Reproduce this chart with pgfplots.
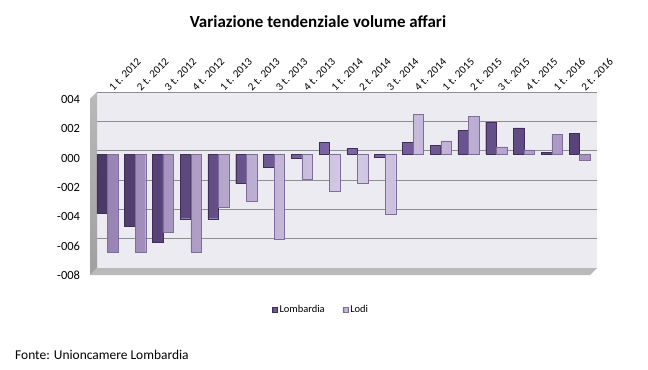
\documentclass[border=0pt]{standalone}
\usepackage{fontspec}
\setmainfont{Carlito}
\usepackage{pgfplots}
\pgfplotsset{compat=1.18}
\definecolor{lombL}{HTML}{4A3866}
\definecolor{lombM}{HTML}{7E66A6}
\definecolor{lombR}{HTML}{574378}
\definecolor{lombE}{HTML}{3F2F58}
\definecolor{lodiL}{HTML}{9884B4}
\definecolor{lodiM}{HTML}{D4CAE4}
\definecolor{lodiR}{HTML}{A592C0}
\definecolor{lodiE}{HTML}{7F6C9C}
\definecolor{wallc}{HTML}{EDEBF2}
\definecolor{gridc}{HTML}{8E8E8E}
\begin{document}
\begin{tikzpicture}[x=1bp,y=1bp]
\path (0,0) rectangle (648,369);
\node[font=\fontsize{17}{20}\selectfont\bfseries, anchor=base, inner sep=0] at (318,342) {Variazione tendenziale volume affari};
\node[font=\fontsize{13.5}{16}\selectfont, anchor=west, inner sep=0] at (15,14) {Fonte: Unioncamere Lombardia};
\begin{axis}[at={(93.5bp,97.5bp)}, anchor=south west,
  width=500bp, height=176bp, scale only axis,
  xmin=-0.5, xmax=17.5, ymin=-8, ymax=4, clip=false,
  axis line style={draw=none}, major tick length=0pt,
  ytick={-8,-6,...,4}, yticklabels={-008,-006,-004,-002,000,002,004},
  yticklabel style={font=\fontsize{12.5}{14}\selectfont, anchor=east, xshift=-10bp, yshift=-4bp},
  xtick={0,...,17},
  xticklabels={1 t. 2012,2 t. 2012,3 t. 2012,4 t. 2012,1 t. 2013,2 t. 2013,3 t. 2013,4 t. 2013,1 t. 2014,2 t. 2014,3 t. 2014,4 t. 2014,1 t. 2015,2 t. 2015,3 t. 2015,4 t. 2015,1 t. 2016,2 t. 2016},
  xticklabel pos=upper,
  xticklabel style={font=\fontsize{11}{13}\selectfont, xshift=6bp, yshift=4bp, rotate=45, anchor=south west, inner sep=0pt},
  legend style={at={(0.455,-0.219)}, anchor=center, draw=none, fill=none, font=\fontsize{10.5}{12}\selectfont, /tikz/every even column/.append style={column sep=16bp}},
  legend columns=2,
]
% back wall
\fill[wallc] ([shift={(3.5bp,3.5bp)}]axis cs:-0.5,-8) rectangle ([shift={(3.5bp,3.5bp)}]axis cs:17.5,4);
% left wall
\shade[top color=gray!55, bottom color=gray!75] ([shift={(3.5bp,3.5bp)}]axis cs:-0.5,4) -- ([shift={(3.5bp,3.5bp)}]axis cs:-0.5,-8) -- ([shift={(-3.5bp,-3.5bp)}]axis cs:-0.5,-8) -- ([shift={(-3.5bp,-3.5bp)}]axis cs:-0.5,4) -- cycle;
% floor
\fill[gray!55] ([shift={(3.5bp,3.5bp)}]axis cs:-0.5,-8) -- ([shift={(3.5bp,3.5bp)}]axis cs:17.5,-8) -- ([shift={(-3.5bp,-3.5bp)}]axis cs:17.5,-8) -- ([shift={(-3.5bp,-3.5bp)}]axis cs:-0.5,-8) -- cycle;
% grid lines
\draw[gridc, line width=0.8bp] ([shift={(3.5bp,3.5bp)}]axis cs:-0.5,4) -- ([shift={(3.5bp,3.5bp)}]axis cs:17.5,4);
\draw[gridc, line width=0.8bp] ([shift={(3.5bp,3.5bp)}]axis cs:-0.5,2) -- ([shift={(3.5bp,3.5bp)}]axis cs:17.5,2);
\draw[gridc, line width=1bp] ([shift={(3.5bp,3.5bp)}]axis cs:-0.5,0) -- ([shift={(3.5bp,3.5bp)}]axis cs:17.5,0);
\draw[gridc, line width=0.8bp] ([shift={(3.5bp,3.5bp)}]axis cs:-0.5,-2) -- ([shift={(3.5bp,3.5bp)}]axis cs:17.5,-2);
\draw[gridc, line width=0.8bp] ([shift={(3.5bp,3.5bp)}]axis cs:-0.5,-4) -- ([shift={(3.5bp,3.5bp)}]axis cs:17.5,-4);
\draw[gridc, line width=0.8bp] ([shift={(3.5bp,3.5bp)}]axis cs:-0.5,-6) -- ([shift={(3.5bp,3.5bp)}]axis cs:17.5,-6);
% bars
\addplot[ybar, bar width=10.5bp, bar shift=-5.3bp, draw=lombE, line width=0.4bp,
  left color=lombL, right color=lombR, middle color=lombM,
  legend image code/.code={\draw[fill=lombR, draw=lombE, line width=0.4bp] (0bp,-2.6bp) rectangle (5.2bp,2.6bp);}]
  coordinates {(0,-4.0) (1,-4.9) (2,-6.0) (3,-4.4) (4,-4.4) (5,-2.0) (6,-0.9) (7,-0.3) (8,0.8) (9,0.4) (10,-0.2) (11,0.8) (12,0.6) (13,1.6) (14,2.2) (15,1.8) (16,0.1) (17,1.4)};
\addlegendentry{Lombardia}
\addplot[ybar, bar width=10.5bp, bar shift=5.3bp, draw=lodiE, line width=0.4bp,
  left color=lodiL, right color=lodiR, middle color=lodiM,
  legend image code/.code={\draw[fill=lodiR!80, draw=lodiE, line width=0.4bp] (0bp,-2.6bp) rectangle (5.2bp,2.6bp);}]
  coordinates {(0,-6.7) (1,-6.7) (2,-5.3) (3,-6.7) (4,-3.6) (5,-3.2) (6,-5.8) (7,-1.7) (8,-2.5) (9,-2.0) (10,-4.1) (11,2.7) (12,0.9) (13,2.6) (14,0.5) (15,0.3) (16,1.35) (17,-0.4)};
\addlegendentry{Lodi}
\end{axis}
\end{tikzpicture}
\end{document}
